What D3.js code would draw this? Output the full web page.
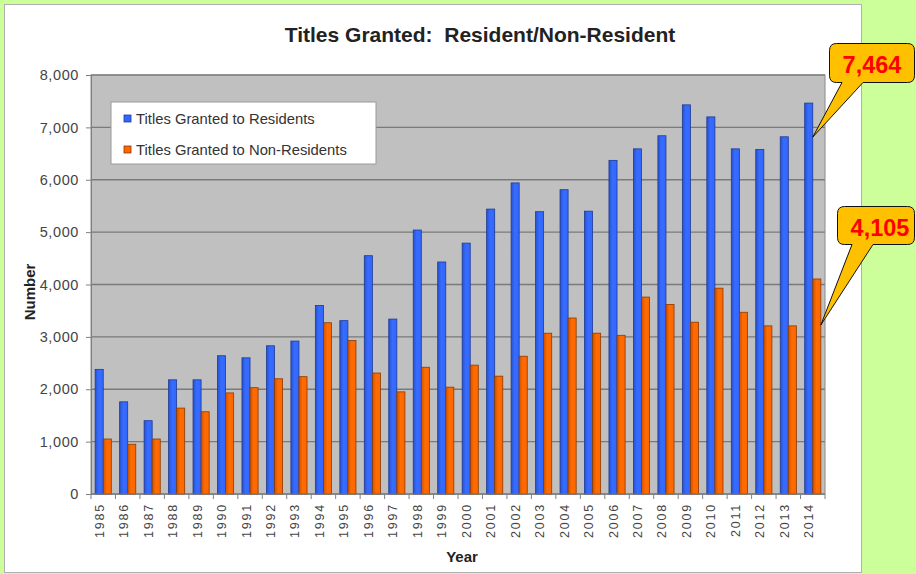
<!DOCTYPE html>
<html><head><meta charset="utf-8">
<script src="https://cdn.jsdelivr.net/npm/d3@7/dist/d3.min.js"></script>
<style>
html,body{margin:0;padding:0;background:#ccff99;}
svg{display:block;font-family:Arial,"Liberation Sans",sans-serif;}
</style></head>
<body>
<svg id="chart" width="916" height="574"></svg>
<script>
const years = ["1985","1986","1987","1988","1989","1990","1991","1992","1993","1994","1995","1996","1997","1998","1999","2000","2001","2002","2003","2004","2005","2006","2007","2008","2009","2010","2011","2012","2013","2014"];
const residents = [2380,1760,1400,2180,2180,2640,2600,2830,2920,3600,3310,4550,3340,5040,4430,4790,5440,5940,5390,5810,5400,6370,6590,6840,7430,7200,6590,6580,6820,7464];
const nonResidents = [1050,950,1050,1640,1570,1930,2030,2200,2240,3270,2930,2310,1950,2420,2040,2460,2250,2630,3070,3360,3070,3030,3760,3620,3280,3930,3470,3210,3210,4105];
const seriesNames = ["Titles Granted to Residents","Titles Granted to Non-Residents"];
const yTicks = [0,1000,2000,3000,4000,5000,6000,7000,8000];
const title = "Titles Granted:  Resident/Non-Resident";
const callouts = [{label:"7,464", series:0, year:"2014"},{label:"4,105", series:1, year:"2014"}];

const svg = d3.select("#chart");
const colors = ["#3366ff","#ff6600"];
const strokes = ["#1d3a94","#8a3a00"];

// panel
svg.append("rect").attr("x",4.5).attr("y",4.5).attr("width",857).attr("height",568)
  .attr("fill","#fff").attr("stroke","#b0b0b0").attr("stroke-width",1);

const L=91, R=825, T=75, B=494;
const x = d3.scaleBand().domain(years).range([L,R]).padding(0);
const y = d3.scaleLinear().domain([0,8000]).range([B,T]);
const bw = x.bandwidth()*0.66;
const x1 = d3.scaleBand().domain([0,1]).range([0,bw]).padding(0);

// gradients
const defs = svg.append("defs");
colors.forEach((c,i)=>{
  const g = defs.append("linearGradient").attr("id","g"+i).attr("x1","0").attr("x2","1").attr("y1","0").attr("y2","0");
  const dk = d3.color(c).darker(0.6), lt = d3.color(c).brighter(0.15);
  g.append("stop").attr("offset","0").attr("stop-color",dk);
  g.append("stop").attr("offset","0.45").attr("stop-color",lt);
  g.append("stop").attr("offset","1").attr("stop-color",c);
});

// plot area
svg.append("rect").attr("x",L).attr("y",T).attr("width",R-L).attr("height",B-T).attr("fill","#c0c0c0");
svg.append("g").selectAll("line").data(yTicks).join("line")
  .attr("x1",L).attr("x2",R).attr("y1",d=>y(d)).attr("y2",d=>y(d))
  .attr("stroke","#7a7a7a").attr("stroke-width",1.3);
svg.append("rect").attr("x",L).attr("y",T).attr("width",R-L).attr("height",B-T)
  .attr("fill","none").attr("stroke","#8a8a8a").attr("stroke-width",1);

// bars
const data = years.map((yr,i)=>({yr, vals:[residents[i],nonResidents[i]]}));
const grp = svg.append("g").selectAll("g").data(data).join("g")
  .attr("transform",d=>`translate(${x(d.yr)+(x.bandwidth()-bw)/2},0)`);
grp.selectAll("rect").data(d=>d.vals.map((v,k)=>({v,k}))).join("rect")
  .attr("x",d=>x1(d.k)).attr("width",x1.bandwidth())
  .attr("y",d=>y(d.v)).attr("height",d=>B-y(d.v))
  .attr("fill",d=>`url(#g${d.k})`).attr("stroke",d=>strokes[d.k]).attr("stroke-width",0.8);

// y axis
const yAxis = d3.axisLeft(y).tickValues(yTicks).tickSize(5).tickPadding(7).tickFormat(d3.format(","));
const ya = svg.append("g").attr("transform",`translate(${L},0)`).call(yAxis);
ya.select(".domain").attr("stroke","#808080");
ya.selectAll(".tick line").attr("stroke","#808080");
ya.selectAll("text").attr("font-size",14.5).attr("fill","#444").attr("letter-spacing",0.6).attr("font-family","Arial,'Liberation Sans',sans-serif");

// x axis
const xa = svg.append("g").attr("transform",`translate(0,${B})`);
xa.append("line").attr("x1",L).attr("x2",R).attr("stroke","#808080");
xa.selectAll("line.tk").data(years.concat(["end"])).join("line").attr("class","tk")
  .attr("x1",(d,i)=>i<years.length?x(d):R).attr("x2",(d,i)=>i<years.length?x(d):R)
  .attr("y1",0).attr("y2",5).attr("stroke","#808080");
xa.selectAll("text").data(years).join("text")
  .attr("transform",d=>`translate(${x(d)+x.bandwidth()/2+0.5},9) rotate(-90)`)
  .attr("text-anchor","end").attr("font-size",12.5).attr("letter-spacing",1.8)
  .attr("fill","#444").text(d=>d);

// axis titles
svg.append("text").attr("transform","translate(35,292) rotate(-90)").attr("text-anchor","middle")
  .attr("font-size",15).attr("font-weight","bold").attr("fill","#222").text("Number");
svg.append("text").attr("x",462).attr("y",562).attr("text-anchor","middle")
  .attr("font-size",15).attr("font-weight","bold").attr("fill","#222").text("Year");

// title
svg.append("text").attr("x",480).attr("y",42).attr("text-anchor","middle")
  .attr("font-size",21).attr("font-weight","bold").attr("fill","#222").attr("xml:space","preserve")
  .style("white-space","pre").text(title);

// legend
const lg = svg.append("g");
lg.append("rect").attr("x",111).attr("y",102).attr("width",265).attr("height",62)
  .attr("fill","#fff").attr("stroke","#9a9a9a");
seriesNames.forEach((n,i)=>{
  const yy = 119 + i*31;
  lg.append("rect").attr("x",124).attr("y",yy-4).attr("width",7).attr("height",7)
    .attr("fill",colors[i]).attr("stroke",strokes[i]).attr("stroke-width",0.8);
  lg.append("text").attr("x",136).attr("y",yy+4.5).attr("font-size",14.8).attr("fill","#333").text(n);
});

// callouts
function calloutPath(x0,y0,x1,y1,r,a,b,tx,ty){
  return `M${x0+r},${y0} H${x1-r} Q${x1},${y0} ${x1},${y0+r} V${y1-r} Q${x1},${y1} ${x1-r},${y1} H${b} L${tx},${ty} L${a},${y1} H${x0+r} Q${x0},${y1} ${x0},${y1-r} V${y0+r} Q${x0},${y0} ${x0+r},${y0} Z`;
}
const boxes = [
  {x0:829,y0:43,x1:915,y1:82,a:842,b:863,dy:34,tx:872,ty:73},
  {x0:837,y0:206,x1:915,y1:244,a:852,b:873,dy:46,tx:880,ty:236}
];
callouts.forEach((c,i)=>{
  const bx = boxes[i];
  const idx = years.indexOf(c.year);
  const v = c.series===0?residents[idx]:nonResidents[idx];
  const gx = x(c.year)+(x.bandwidth()-bw)/2 + x1(c.series) + x1.bandwidth();
  const gy = y(v)+bx.dy;
  svg.append("path").attr("d",calloutPath(bx.x0+0.5,bx.y0+0.5,bx.x1-0.5,bx.y1+0.5,7,bx.a,bx.b,gx,gy))
    .attr("fill","#ffc000").attr("stroke","#111").attr("stroke-width",1);
  svg.append("text").attr("x",bx.tx).attr("y",bx.ty).attr("text-anchor","middle")
    .attr("font-size",23.5).attr("font-weight","bold").attr("fill","#ff0000").text(c.label);
});
</script>
</body></html>
